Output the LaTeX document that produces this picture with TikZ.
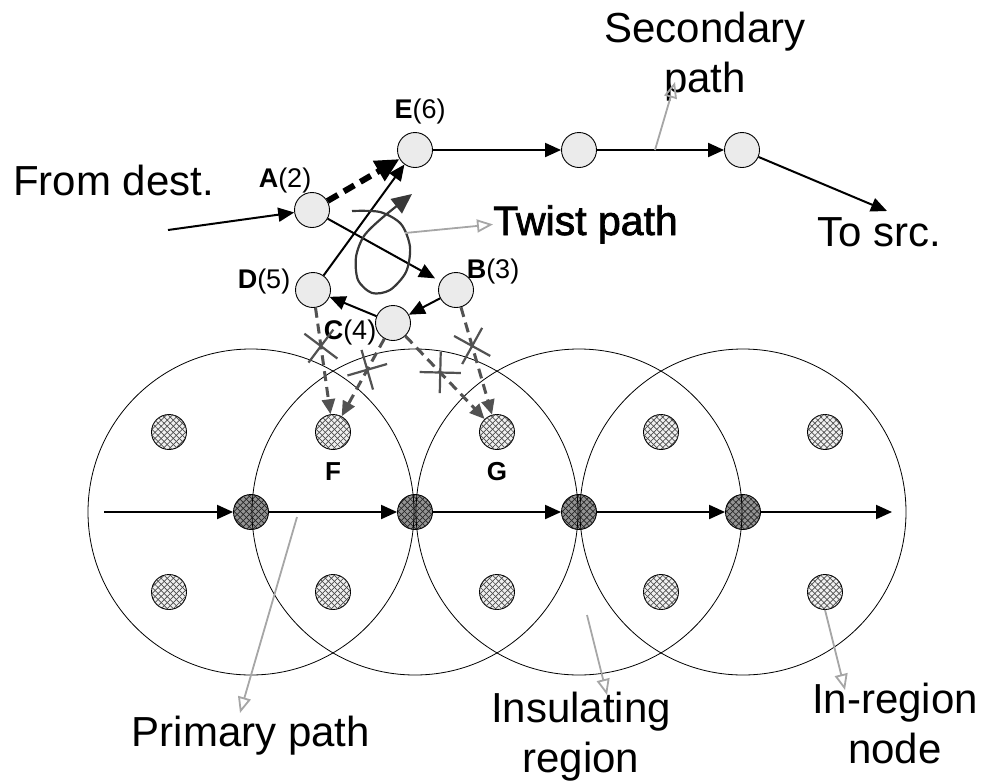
\documentclass[tikz,border=0pt]{standalone}
\usepackage{fontspec}
\setmainfont{Liberation Sans}
\newfontfamily\heavyfont[FakeBold=1.8]{Liberation Sans}
\usetikzlibrary{arrows.meta,patterns.meta,shapes.misc}

\begin{document}
\begin{tikzpicture}[x=1pt,y=-1pt,
  relay/.style={circle,draw,line width=0.9pt,fill=black!8,minimum size=35pt,inner sep=0pt},
  hatched/.style 2 args={circle,draw,line width=0.9pt,minimum size=35pt,inner sep=0pt,
    preaction={fill=#1},
    pattern={Lines[angle=45,distance=4.3pt,line width=0.7pt]},pattern color=#2,
    postaction={pattern={Lines[angle=-45,distance=4.3pt,line width=0.7pt]},pattern color=#2}},
  member/.style={hatched={black!6}{black!70}},
  hub/.style={hatched={black!42}{black!85}},
  region/.style={draw,line width=0.8pt},
  flow/.style={draw,line width=2pt,-{Triangle[length=16pt,width=14pt]}},
  jump/.style={draw,line width=6pt,dash pattern=on 12pt off 7pt,
    -{Triangle[length=24pt,width=22pt]}},
  lost/.style={draw=black!68,line width=3pt,dash pattern=on 10pt off 6pt,
    -{Triangle[length=15pt,width=13pt]}},
  cut/.style={cross out,draw=black!68,solid,line width=2.2pt,sloped,
    minimum size=27pt,inner sep=0pt},
  callout/.style={draw=black!35,line width=1.8pt,-{Triangle[open,length=16pt,width=13pt]}},
  big/.style={font=\fontsize{42}{50}\selectfont,inner sep=0pt},
  lbl/.style={font=\fontsize{27}{32}\selectfont,inner sep=0pt},
  tag/.style={font=\fontsize{26}{30}\selectfont\bfseries,inner sep=0pt}]

\useasboundingbox (0,0) rectangle (985,782);

% in-region nodes
\node[member] (M1a) at (169,432) {};
\node[member] (M1b) at (169,592) {};
\node[member] (F)   at (333,432) {};
\node[member] (M2b) at (333,592) {};
\node[member] (G)   at (497,432) {};
\node[member] (M3b) at (497,592) {};
\node[member] (M4a) at (661,432) {};
\node[member] (M4b) at (661,592) {};
\node[member] (M5a) at (825,432) {};
\node[member] (M5b) at (825,592) {};

% primary path nodes
\node[hub] (P1) at (251,512) {};
\node[hub] (P2) at (415,512) {};
\node[hub] (P3) at (579,512) {};
\node[hub] (P4) at (743,512) {};

% insulating regions, drawn over the primary nodes
\foreach \cx in {251,415,579,743}
  \draw[region] (\cx,512) circle[radius=163pt];

\coordinate (pstart) at (104,512);
\coordinate (pend) at (892,512);
\draw[flow] (pstart) -- (P1);
\draw[flow] (P1) -- (P2);
\draw[flow] (P2) -- (P3);
\draw[flow] (P3) -- (P4);
\draw[flow] (P4) -- (pend);

\node[tag] (Flbl) at (333,472) {F};
\node[tag] (Glbl) at (497,472) {G};

% relay nodes of the twist and secondary paths
\node[relay] (A) at (312,210) {};
\node[relay] (E) at (415,150) {};
\node[relay] (D) at (313,290) {};
\node[relay] (B) at (456,290) {};
\node[relay] (C) at (393,323) {};
\node[relay] (S1) at (579,150) {};
\node[relay] (S2) at (742,150) {};

\node[lbl] (Albl) at (285,181) {\textbf{A}(2)};
\node[lbl] (Elbl) at (420,112) {\textbf{E}(6)};
\node[lbl] (Dlbl) at (264,282) {\textbf{D}(5)};
\node[lbl] (Blbl) at (493,272) {\textbf{B}(3)};
\node[lbl] (Clbl) at (350,333) {\textbf{C}(4)};

% broken links towards the region
\draw[lost] (D) -- node[cut,pos=0.36] (x1) {} (F);
\draw[lost] (C) -- node[cut,pos=0.40] (x2) {} (F);
\draw[lost] (C) -- node[cut,pos=0.44] (x3) {} (G);
\draw[lost] (B) -- node[cut,pos=0.36] (x4) {} (G);

% twist path
\coordinate (din) at (168,230);
\draw[flow] (din) -- (A);
\draw[flow,shorten >=6pt] (A) -- (B);
\draw[flow] (B) -- (C);
\draw[flow] (C) -- (D);
\draw[flow] (D) -- (E);
\draw[jump] (A) -- (E);

% secondary path
\coordinate (sout) at (887,211);
\draw[flow] (E) -- (S1);
\draw[flow] (S1) -- (S2);
\draw[flow] (S2) -- (sout);

% twist symbol
\draw[black!78,line width=2.2pt,-{Triangle[length=20pt,width=18pt]}]
  plot[smooth] coordinates {(352,211) (380,212) (401,224) (410,247) (406,272)
    (390,290) (372,293) (358,280) (356,257) (364,236) (382,218) (412,194)};

% texts
\node[big,anchor=base west] (dest) at (13,195) {From dest.};
\node[big,anchor=base west] (src) at (817,246) {To src.};
\node[font=\heavyfont\fontsize{41}{48}\selectfont,inner sep=0pt,anchor=base west]
  (twist) at (493,235) {Twist path};
\node[big,align=center] (sec) at (705,57) {Secondary\\path};
\node[big,anchor=base] (prim) at (251,746) {Primary path};
\node[big,align=center] (ins) at (581,737) {Insulating\\region};
\node[big,align=center] (inr) at (895,723) {In-region\\node};

% callouts
\coordinate (twfoot) at (405,233);
\draw[callout] (twfoot) -- (twist.west);
\coordinate (secfoot) at (655,150);
\coordinate (sectip) at (675,82);
\draw[callout] (secfoot) -- (sectip);
\coordinate (primfoot) at (297,517);
\coordinate (primtip) at (240,713);
\draw[callout] (primfoot) -- (primtip);
\coordinate (insfoot) at (587,615);
\coordinate (instip) at (607,695);
\draw[callout] (insfoot) -- (instip);
\coordinate (inrtip) at (845,690);
\draw[callout] (M5b.south) -- (inrtip);
\end{tikzpicture}
\end{document}
